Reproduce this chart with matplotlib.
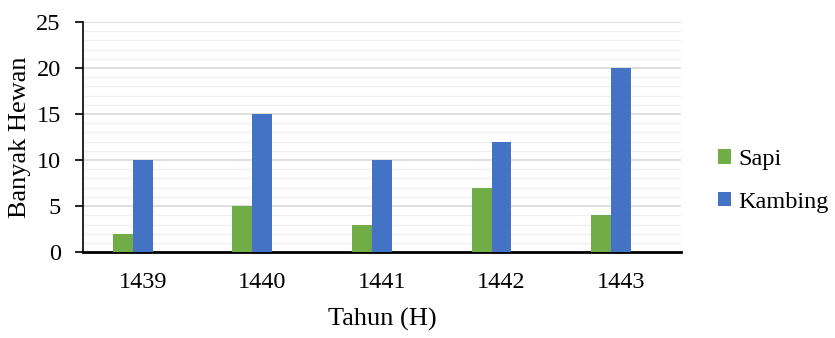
import matplotlib.pyplot as plt
import numpy as np
from matplotlib.ticker import MultipleLocator

years = ['1439', '1440', '1441', '1442', '1443']
sapi = [2, 5, 3, 7, 4]
kambing = [10, 15, 10, 12, 20]

plt.rcParams['font.family'] = ['Liberation Serif', 'DejaVu Serif']

fig = plt.figure(figsize=(8.35, 3.38), dpi=100)
ax = fig.add_axes([0.0994, 0.254, 0.716, 0.681])

x = np.arange(len(years))
w = 1 / 6
# bars sit left of the category centre, as in the original Excel chart
ax.bar(x - w, sapi, width=w, color='#70ad47', label='Sapi', zorder=3)
ax.bar(x, kambing, width=w, color='#4472c4', label='Kambing', zorder=3)

ax.set_xlim(-0.5, len(years) - 0.5)
ax.set_ylim(0, 25)
ax.yaxis.set_major_locator(MultipleLocator(5))
ax.yaxis.set_minor_locator(MultipleLocator(1))
ax.grid(axis='y', which='major', color='#d9d9d9', linewidth=1.2, zorder=0)
ax.grid(axis='y', which='minor', color='#f0f0f0', linewidth=1.0, zorder=0)
ax.set_axisbelow(True)

ax.set_xticks(x)
ax.set_xticklabels(years)
ax.tick_params(axis='x', length=0, labelsize=17.5, pad=14)
ax.tick_params(axis='y', which='major', length=6, width=1.2, labelsize=17.5,
               direction='out', pad=10)
ax.tick_params(axis='y', which='minor', length=0)

for s in ['top', 'right']:
    ax.spines[s].set_visible(False)
ax.spines['left'].set_linewidth(1.2)
ax.spines['bottom'].set_linewidth(2)

ax.set_xlabel('Tahun (H)', fontsize=19, labelpad=11)
ax.set_ylabel('Banyak Hewan', fontsize=19, labelpad=4)

ax.legend(loc='center left', bbox_to_anchor=(1.025, 0.31), frameon=False,
          fontsize=17.5, handlelength=0.55, handleheight=0.55, handletextpad=0.3,
          labelspacing=0.9)

fig.savefig('out.png', dpi=100)
